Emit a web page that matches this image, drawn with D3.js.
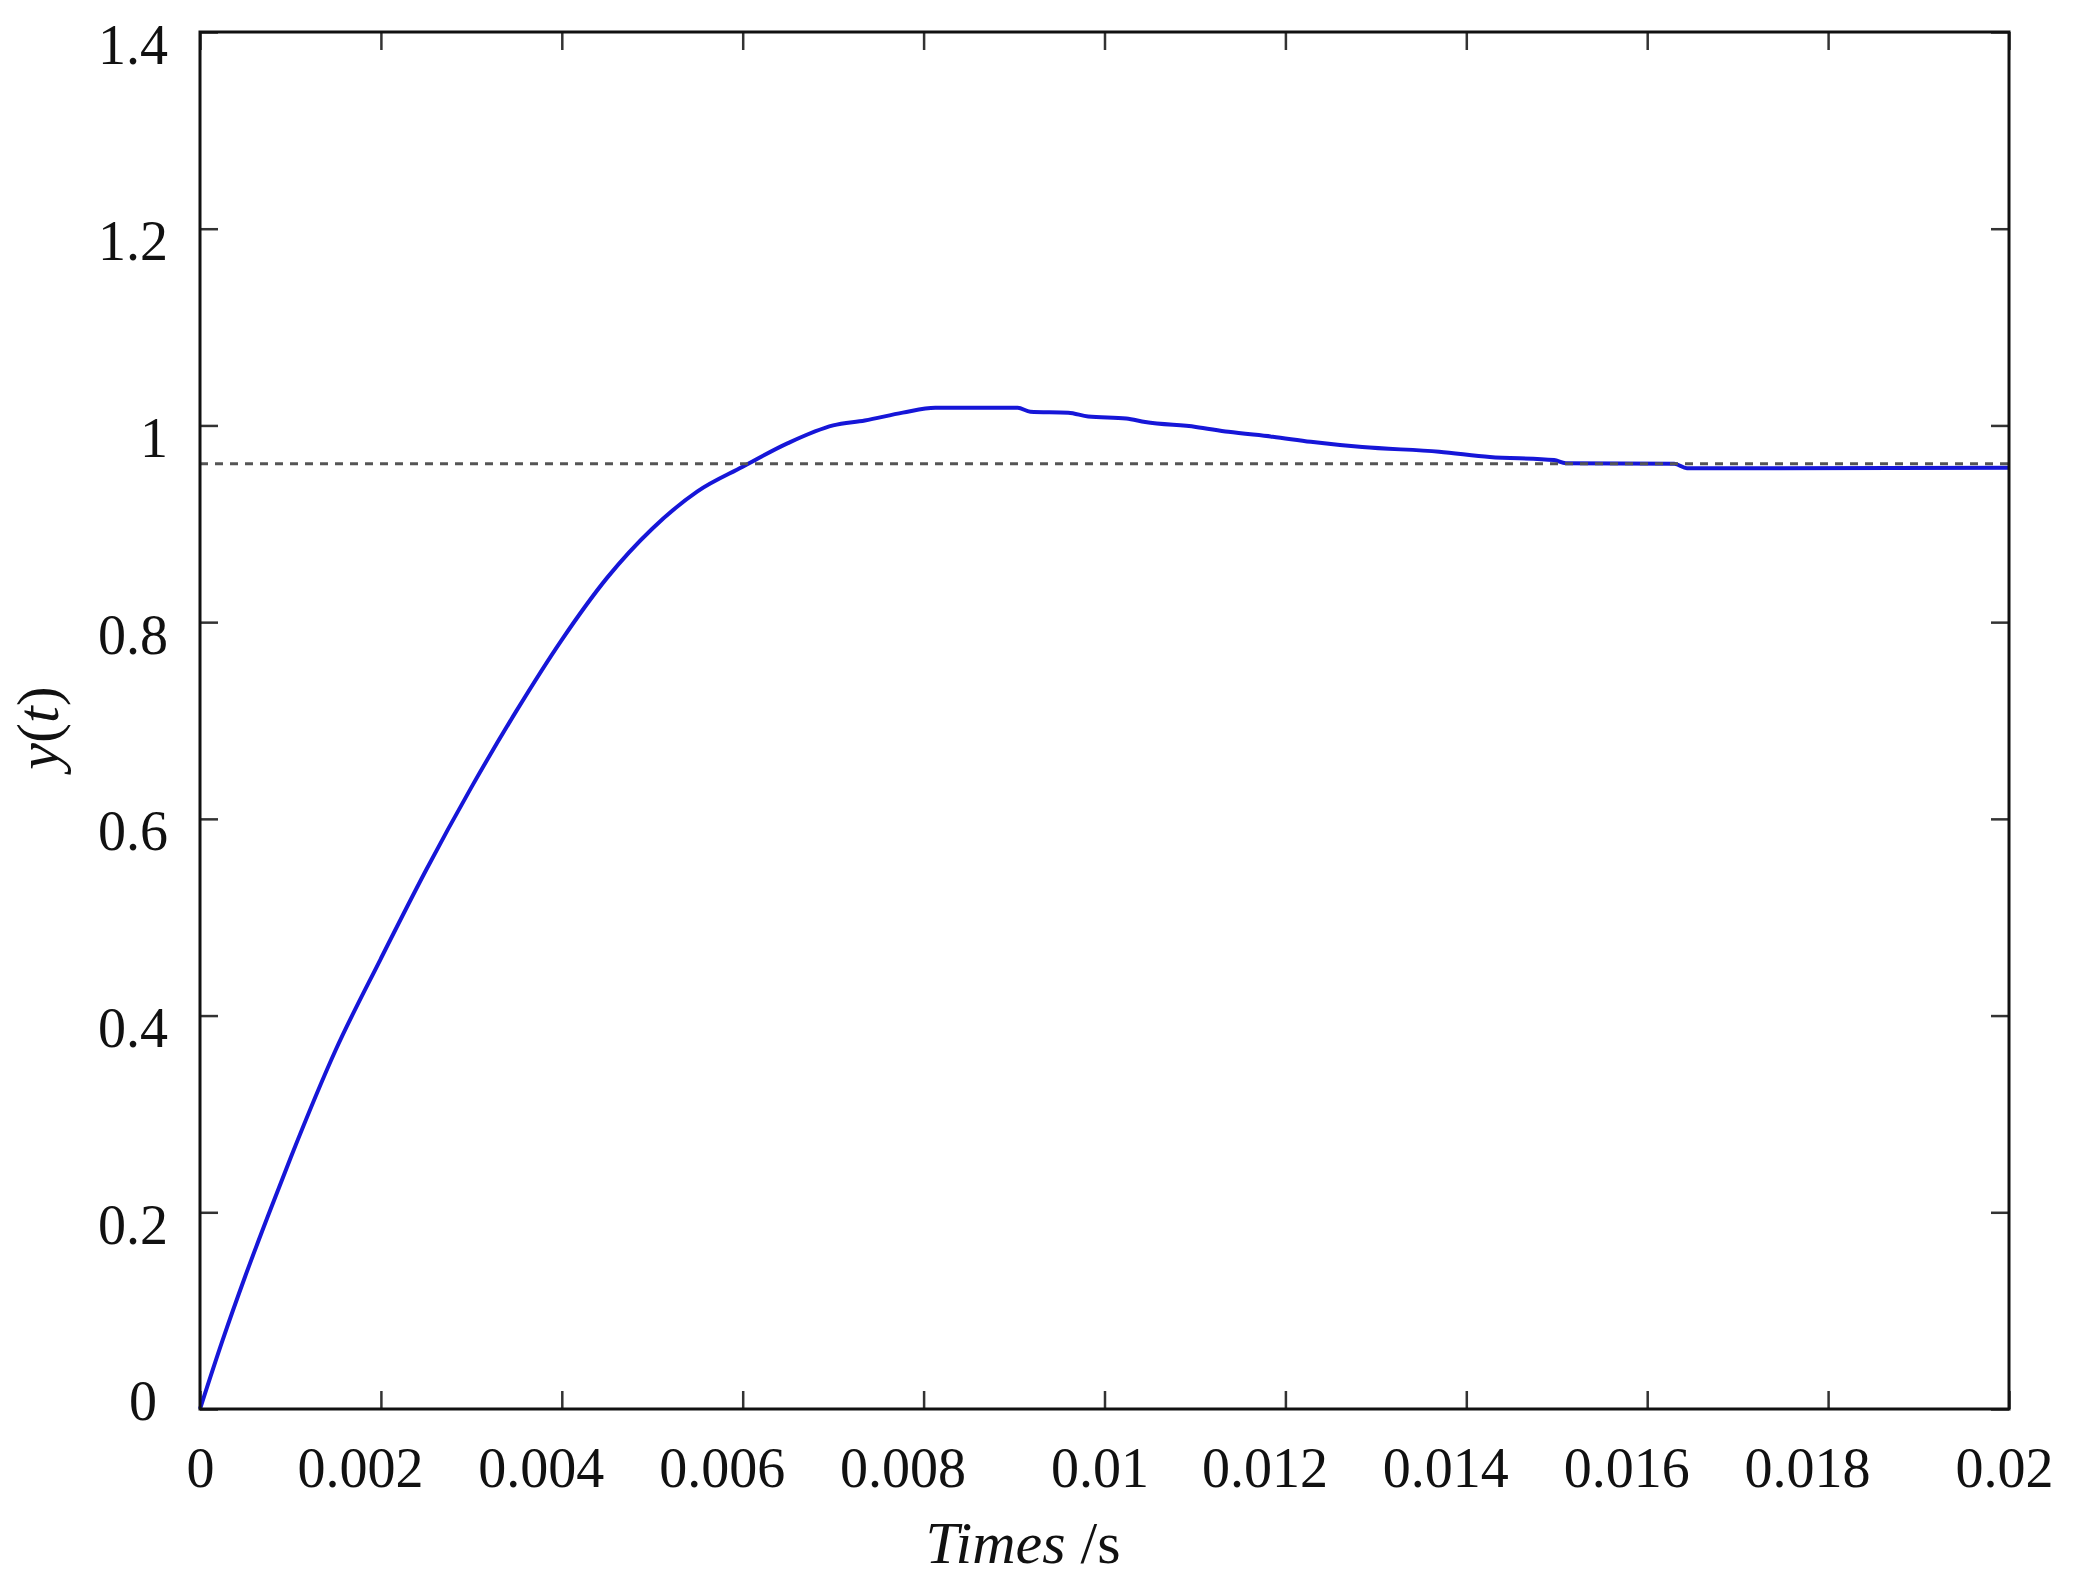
<!DOCTYPE html>
<html>
<head>
<meta charset="utf-8">
<script src="https://cdn.jsdelivr.net/npm/d3@7"></script>
<style>
  body { margin: 0; background: #fff; }
</style>
</head>
<body>
<div id="chart"></div>
<script>
const time = [0, 0.00025, 0.0005, 0.00075, 0.001, 0.0015, 0.002, 0.0025, 0.003, 0.0035,
  0.004, 0.0045, 0.005, 0.0055, 0.006, 0.0065, 0.0070, 0.00735, 0.00777, 0.00813,
  0.00904, 0.00918, 0.0096, 0.00982, 0.01024, 0.01045, 0.01101, 0.01137, 0.01186, 0.01228,
  0.01285, 0.0137, 0.01426, 0.01497, 0.0151, 0.0163, 0.01644, 0.02];
const response = [0, 0.07, 0.135, 0.196, 0.255, 0.365, 0.458, 0.548, 0.632, 0.71,
  0.782, 0.845, 0.895, 0.933, 0.958, 0.982, 1.0, 1.005, 1.013, 1.018,
  1.018, 1.014, 1.013, 1.009, 1.007, 1.0035, 0.9985, 0.9935, 0.9885, 0.9834,
  0.978, 0.9733, 0.968, 0.9648, 0.9615, 0.961, 0.9564, 0.957];
const reference = 0.961;

const xTicks = [0, 0.002, 0.004, 0.006, 0.008, 0.01, 0.012, 0.014, 0.016, 0.018, 0.02];
const xTickLabels = ["0", "0.002", "0.004", "0.006", "0.008", "0.01", "0.012", "0.014", "0.016", "0.018", "0.02"];
const yTicks = [0, 0.2, 0.4, 0.6, 0.8, 1, 1.2, 1.4];
const yTickLabels = ["0", "0.2", "0.4", "0.6", "0.8", "1", "1.2", "1.4"];

const width = 2076;
const height = 1582;
const margin = {top: 32, right: 67, bottom: 173, left: 200};
const font = "'Liberation Serif', 'Times New Roman', serif";

const svg = d3.select("#chart")
  .append("svg")
  .attr("width", width)
  .attr("height", height)
  .attr("viewBox", [0, 0, width, height])
  .style("background", "#fff");

const x = d3.scaleLinear()
  .domain([0, 0.02])
  .range([margin.left, width - margin.right]);

const y = d3.scaleLinear()
  .domain([0, 1.4])
  .range([height - margin.bottom, margin.top]);

const xLabel = v => xTickLabels[xTicks.indexOf(v)];
const yLabel = v => yTickLabels[yTicks.indexOf(v)];

// labels in the original sit a bit off their ticks
function xShift(v) {
  const s = xLabel(v);
  if (v === 0) return 0;
  return s.length > 4 ? -21 : -5;
}

function styleTicks(g) {
  g.select(".domain").remove();
  g.selectAll(".tick line").attr("stroke", "#333").attr("stroke-width", 2.5);
  g.selectAll(".tick text").attr("fill", "#111");
}

// bottom
svg.append("g")
  .attr("transform", `translate(0,${y(0)})`)
  .call(d3.axisBottom(x).tickValues(xTicks).tickFormat(xLabel).tickSizeInner(-18).tickSizeOuter(0).tickPadding(38))
  .attr("font-family", font)
  .attr("font-size", 56)
  .call(styleTicks)
  .call(g => g.selectAll(".tick text").attr("dx", d => xShift(d)));

// left
svg.append("g")
  .attr("transform", `translate(${x(0)},0)`)
  .call(d3.axisLeft(y).tickValues(yTicks).tickFormat(yLabel).tickSizeInner(-18).tickSizeOuter(0).tickPadding(32))
  .attr("font-family", font)
  .attr("font-size", 56)
  .call(styleTicks)
  .call(g => g.selectAll(".tick text")
    .attr("dy", d => d === 0 ? 10 : 31)
    .attr("dx", d => d === 0 ? -11 : 0));

// top and right, ticks only
svg.append("g")
  .attr("transform", `translate(0,${y(1.4)})`)
  .call(d3.axisTop(x).tickValues(xTicks).tickFormat("").tickSizeInner(-18).tickSizeOuter(0))
  .call(styleTicks);

svg.append("g")
  .attr("transform", `translate(${x(0.02)},0)`)
  .call(d3.axisRight(y).tickValues(yTicks).tickFormat("").tickSizeInner(-18).tickSizeOuter(0))
  .call(styleTicks);

const line = d3.line()
  .x((d, i) => x(time[i]))
  .y(d => y(d))
  .curve(d3.curveMonotoneX);

svg.append("path")
  .datum(response)
  .attr("fill", "none")
  .attr("stroke", "#1616d8")
  .attr("stroke-width", 4)
  .attr("stroke-linejoin", "round")
  .attr("d", line);

svg.append("line")
  .attr("x1", x(0))
  .attr("x2", x(0.02))
  .attr("y1", y(reference))
  .attr("y2", y(reference))
  .attr("stroke", "#555")
  .attr("stroke-width", 3)
  .attr("stroke-dasharray", "8,7");

// frame
svg.append("rect")
  .attr("x", x(0))
  .attr("y", y(1.4))
  .attr("width", x(0.02) - x(0))
  .attr("height", y(0) - y(1.4))
  .attr("fill", "none")
  .attr("stroke", "#111")
  .attr("stroke-width", 3);

// axis titles
const xt = svg.append("text")
  .attr("x", 1023)
  .attr("y", 1563)
  .attr("text-anchor", "middle")
  .attr("font-family", font)
  .attr("font-size", 60)
  .attr("fill", "#111");
xt.append("tspan").attr("font-style", "italic").text("Times");
xt.append("tspan").text(" /s");

const yt = svg.append("text")
  .attr("transform", `translate(58,${728}) rotate(-90)`)
  .attr("text-anchor", "middle")
  .attr("font-family", font)
  .attr("font-size", 60)
  .attr("fill", "#111");
yt.append("tspan").attr("font-style", "italic").text("y");
yt.append("tspan").text("(");
yt.append("tspan").attr("font-style", "italic").text("t");
yt.append("tspan").text(")");

svg.node();
</script>
</body>
</html>
